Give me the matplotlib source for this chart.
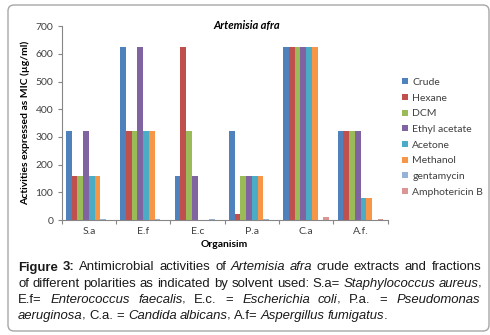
import numpy as np
import matplotlib
matplotlib.use("Agg")
import matplotlib.pyplot as plt
from matplotlib.patches import FancyBboxPatch, Patch

#=====================data===============
categories = ['S.a', 'E.f', 'E.c', 'P.a', 'C.a', 'A.f.']
crude      = [320, 625, 160, 320, 625, 320]
hexane     = [160, 320, 625, 20, 625, 320]
dcm        = [160, 320, 320, 160, 625, 320]
ethyl      = [320, 625, 160, 160, 625, 320]
acetone    = [160, 320, 0, 160, 625, 80]
methanol   = [160, 320, 0, 160, 625, 80]
gentamycin = [3, 3, 3, 3, 0, 0]
ampho      = [0, 0, 0, 0, 10, 2]

series = [crude, hexane, dcm, ethyl, acetone, methanol, gentamycin, ampho]
labels = ['Crude', 'Hexane', 'DCM', 'Ethyl acetate', 'Acetone', 'Methanol',
          'gentamycin', 'Amphotericin B']
colors = ['#4F81BD', '#C0504D', '#9BBB59', '#8064A2', '#4BACC6', '#F79646',
          '#95B3D7', '#D99694']

W, H = 490, 335
chart_font = 'Lato'
cap_font = 'Liberation Sans'
axis_col = '#868686'
txt_col = '#404040'

#====================Plot=======================
fig = plt.figure(figsize=(W/100, H/100), dpi=100)

# outer rounded frame (no fill so the axes stay visible)
frame = FancyBboxPatch((8/100, (H-331)/100), (489-8)/100, (331-5)/100,
                       boxstyle='round,pad=0,rounding_size=0.06',
                       transform=fig.dpi_scale_trans, facecolor='none',
                       edgecolor='#a6a6a6', linewidth=1.0, zorder=-1)
fig.patches.append(frame)

ax = fig.add_axes([61.7/W, 1-220/H, 326/W, (220-26.3)/H])
ax.patch.set_alpha(0)

x = np.arange(len(categories))
bw = 0.105
for i, (vals, col, lab) in enumerate(zip(series, colors, labels)):
    ax.bar(x - 4*bw + (i+0.5)*bw, vals, width=bw, color=col, linewidth=0, label=lab)

ax.set_xlim(-0.5, len(categories)-0.5)
ax.set_ylim(0, 700)
ax.set_yticks(range(0, 701, 100))
ax.set_xticks(x)
ax.set_xticklabels(categories)
ax.set_xticks(np.arange(-0.5, len(categories), 1), minor=True)

for s in ['top', 'right']:
    ax.spines[s].set_visible(False)
for s in ['left', 'bottom']:
    ax.spines[s].set_color(axis_col)
    ax.spines[s].set_linewidth(0.8)

ax.tick_params(axis='y', direction='out', length=3, width=0.8, color=axis_col,
               labelsize=7.5, labelcolor=txt_col, pad=3)
ax.tick_params(axis='x', which='major', length=0, pad=5, labelsize=7.5, labelcolor=txt_col)
ax.tick_params(axis='x', which='minor', direction='out', length=3, width=0.8, color=axis_col)
for t in ax.get_xticklabels() + ax.get_yticklabels():
    t.set_family(chart_font)

ax.set_xlabel('Organisim', fontsize=7.5, fontweight='bold', family=chart_font, labelpad=3)
ax.set_ylabel('Activities expressed as MIC (µg/ml)', fontsize=7.5, fontweight='bold',
              family=chart_font)
ax.yaxis.set_label_coords(-0.098, 0.5)

fig.text(247/W, 1-25/H, 'Artemisia afra', ha='center', va='center', fontsize=8,
         fontweight='bold', style='italic', family=chart_font, color='black')

handles = [Patch(facecolor=c, edgecolor='none') for c in colors]
fig.legend(handles, labels, loc='upper left', bbox_to_anchor=(402/W, 1-78/H),
           frameon=False, handlelength=0.55, handleheight=0.55, handletextpad=0.45,
           labelspacing=0.64, prop={'family': chart_font, 'size': 7.5},
           labelcolor=txt_col, borderaxespad=0, borderpad=0)

#====================caption (justified)=======================
N, I, B = 'normal', 'italic', 'bold'
lines = [
    [[('Figure', B)], [('3:', B)], [('Antimicrobial', N)], [('activities', N)], [('of', N)],
     [('Artemisia', I)], [('afra', I)], [('crude', N)], [('extracts', N)], [('and', N)],
     [('fractions', N)]],
    [[(w, N)] for w in 'of different polarities as indicated by solvent used: S.a='.split()]
    + [[('Staphylococcus', I)], [('aureus', I), (',', N)]],
    [[('E.f=', N)], [('Enterococcus', I)], [('faecalis', I), (',', N)], [('E.c.', N)],
     [('=', N)], [('Escherichia', I)], [('coli', I), (',', N)], [('P.a.', N)], [('=', N)],
     [('Pseudomonas', I)]],
    [[('aeruginosa', I), (',', N)], [('C.a.', N)], [('=', N)], [('Candida', I)],
     [('albicans', I), (',', N)], [('A.f=', N)], [('Aspergillus', I)],
     [('fumigatus', I), ('.', N)]],
]
baselines = [270.5, 286.6, 302.7, 318.6]
x_left, x_right = 18, 483
renderer = fig.canvas.get_renderer()


def make_text(px, py, s, st, fs):
    kw = dict(fontsize=fs, family=cap_font, color='#1a1a1a', va='baseline', ha='left')
    if st == B:
        kw['fontweight'] = 'bold'
    elif st == I:
        kw['style'] = 'italic'
    return fig.text(px/W, 1-py/H, s, **kw)


def seg_width(s, st, fs):
    t = make_text(0, 0, s, st, fs)
    w = t.get_window_extent(renderer).width
    t.remove()
    return w


def natural_width(words, fs):
    sp = seg_width('a a', N, fs) - seg_width('aa', N, fs)
    return sum(seg_width(s, st, fs) for wd in words for s, st in wd) + sp*(len(words)-1)


# the first two lines sit at their natural spacing in the original
fs_ref = 10.0
fs_cap = fs_ref * (x_right - x_left) / max(natural_width(lines[0], fs_ref),
                                          natural_width(lines[1], fs_ref))
space_w = seg_width('a a', N, fs_cap) - seg_width('aa', N, fs_cap)

for li, (words, yb) in enumerate(zip(lines, baselines)):
    widths = [[seg_width(s, st, fs_cap) for s, st in wd] for wd in words]
    total = sum(sum(w) for w in widths)
    if li < len(lines) - 1:
        gap = (x_right - x_left - total) / (len(words) - 1)
    else:
        gap = space_w
    xp = x_left
    for wd, ws in zip(words, widths):
        for (s, st), w in zip(wd, ws):
            make_text(xp, yb, s, st, fs_cap)
            xp += w - (0.8 if st == I else 0)
        xp += gap

fig.savefig('out.png', dpi=100)
